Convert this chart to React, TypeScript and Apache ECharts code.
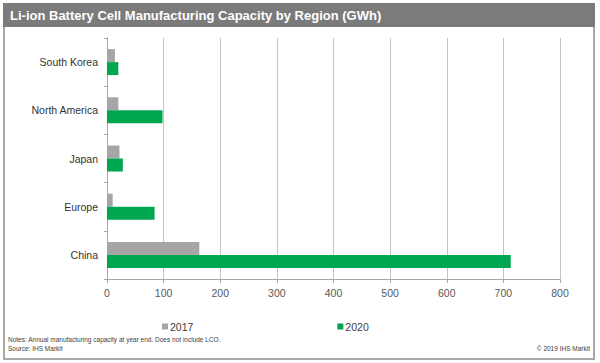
import React, { useEffect, useRef } from "react";
import * as echarts from "echarts";

const categories = ["South Korea", "North America", "Japan", "Europe", "China"];
const values2017 = [14, 20, 22, 10, 163];
const values2020 = [20, 98, 28, 84, 713];
const seriesNames = ["2017", "2020"];
const titleText = "Li-ion Battery Cell Manufacturing Capacity by Region (GWh)";
const notesText = "Notes: Annual manufacturing capacity at year end. Does not include LCO.";
const sourceText = "Source: IHS Markit";
const copyrightText = "© 2019 IHS Markit";

export default function App() {
  const ref = useRef<HTMLDivElement>(null);
  useEffect(() => {
    if (!ref.current) return;
    const chart = echarts.init(ref.current, undefined, { renderer: "svg" });
    const font = "Liberation Sans, Arial, sans-serif";
    chart.setOption({
      animation: false,
      backgroundColor: "#ffffff",
      textStyle: { fontFamily: font },
      grid: { left: 107, right: 40, top: 38, bottom: 84, containLabel: false },
      legend: {
        data: seriesNames,
        left: 157,
        top: 316,
        itemWidth: 6,
        itemHeight: 6,
        itemGap: 144,
        icon: "rect",
        textStyle: { fontSize: 10.5, color: "#404040", fontFamily: font, padding: [0, 0, 0, -3] },
      },
      xAxis: {
        type: "value",
        min: 0,
        max: 800,
        interval: 100,
        axisLine: { show: true, lineStyle: { color: "#a6a6a6", width: 1 } },
        axisTick: { show: true, length: 4, lineStyle: { color: "#a6a6a6" } },
        splitLine: { show: true, lineStyle: { color: "#c4c4c4", width: 1 } },
        axisLabel: { fontSize: 10.5, color: "#595959", margin: 8, fontFamily: font },
      },
      yAxis: {
        type: "category",
        data: categories,
        inverse: true,
        axisLine: { show: true, lineStyle: { color: "#a6a6a6", width: 1 } },
        axisTick: { show: true, length: 3, lineStyle: { color: "#a6a6a6" } },
        axisLabel: { fontSize: 10.5, color: "#333333", margin: 9, fontFamily: font },
      },
      series: [
        {
          name: seriesNames[0],
          type: "bar",
          data: values2017,
          barWidth: 13,
          barGap: "0%",
          itemStyle: { color: "#a6a6a6" },
        },
        {
          name: seriesNames[1],
          type: "bar",
          data: values2020,
          barWidth: 13,
          barGap: "0%",
          itemStyle: { color: "#00a650" },
        },
      ],
      graphic: [
        {
          type: "rect",
          shape: { x: 4, y: 4, width: 590, height: 355 },
          style: { fill: "none", stroke: "#a9a9a9", lineWidth: 2 },
          silent: true,
        },
        {
          type: "rect",
          shape: { x: 3, y: 3, width: 592, height: 24 },
          style: { fill: "#7b7b7b" },
          silent: true,
        },
        {
          type: "text",
          x: 10,
          y: 15,
          style: {
            text: titleText,
            fill: "#ffffff",
            font: "bold 13px " + font,
            verticalAlign: "middle",
          },
          silent: true,
        },
        {
          type: "text",
          x: 8,
          y: 339,
          style: {
            text: notesText,
            fill: "#404040",
            font: "6.5px " + font,
            verticalAlign: "middle",
          },
          silent: true,
        },
        {
          type: "text",
          x: 8,
          y: 348,
          style: {
            text: sourceText,
            fill: "#404040",
            font: "6.5px " + font,
            verticalAlign: "middle",
          },
          silent: true,
        },
        {
          type: "text",
          x: 590,
          y: 348,
          style: {
            text: copyrightText,
            fill: "#404040",
            font: "6.5px " + font,
            align: "right",
            verticalAlign: "middle",
          },
          silent: true,
        },
      ],
    });
    return () => chart.dispose();
  }, []);
  return (
    <div
      ref={ref}
      style={{ position: "absolute", left: 0, top: 0, width: 600, height: 363 }}
    />
  );
}
